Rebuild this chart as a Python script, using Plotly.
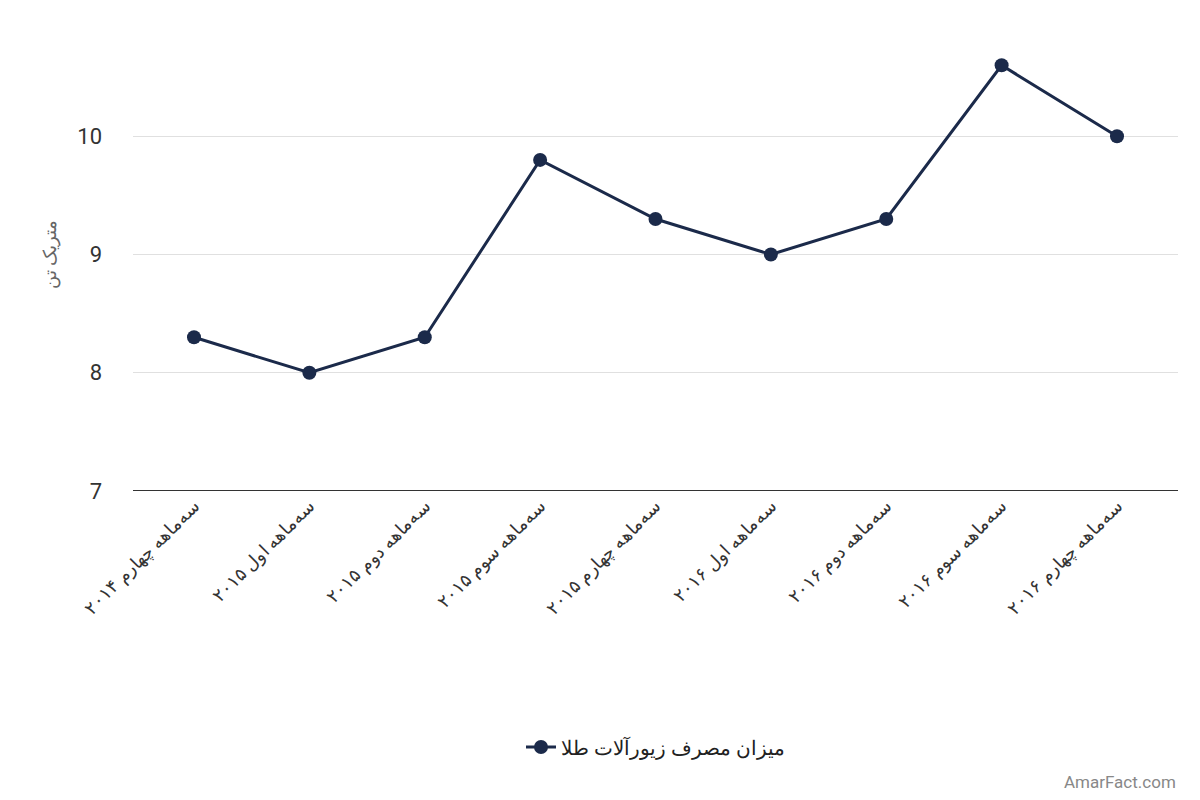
import plotly.graph_objects as go

categories = [
    "سه‌ماهه چهارم ۲۰۱۴", "سه‌ماهه اول ۲۰۱۵", "سه‌ماهه دوم ۲۰۱۵",
    "سه‌ماهه سوم ۲۰۱۵", "سه‌ماهه چهارم ۲۰۱۵", "سه‌ماهه اول ۲۰۱۶",
    "سه‌ماهه دوم ۲۰۱۶", "سه‌ماهه سوم ۲۰۱۶", "سه‌ماهه چهارم ۲۰۱۶",
]
values = [8.3, 8.0, 8.3, 9.8, 9.3, 9.0, 9.3, 10.6, 10.0]
series_name = "میزان مصرف زیورآلات طلا"
color = "#1b2a4a"

fig = go.Figure(go.Scatter(
    x=categories, y=values, name=series_name, mode="lines+markers",
    line=dict(color=color, width=3), marker=dict(size=14, color=color),
))

fig.update_layout(
    width=1200, height=800, plot_bgcolor="white", paper_bgcolor="white",
    font=dict(family="Roboto, Noto Sans", color="#333"),
    margin=dict(l=135, r=20, t=20, b=310),
    showlegend=True,
    legend=dict(orientation="h", x=0.5, xanchor="center", y=-0.5, yanchor="top",
                font=dict(size=20, color="#222")),
    xaxis=dict(tickangle=-45, tickfont=dict(size=18, color="#333"),
               showline=False, showgrid=False, ticks=""),
    yaxis=dict(range=[7, 11], dtick=1, gridcolor="#e0e0e0",
               tickfont=dict(size=22, color="#333"), ticklabelstandoff=30,
               zeroline=False, title=dict(text="متریک تن", font=dict(size=18, color="#666"))),
    annotations=[dict(text="AmarFact.com", x=1, y=0, xref="paper", yref="paper",
                      xanchor="right", yanchor="bottom", xshift=0, yshift=-303,
                      showarrow=False, font=dict(size=17, color="#888"))],
    shapes=[dict(type="line", xref="paper", yref="y", x0=0, x1=1, y0=7, y1=7,
                 line=dict(color="#333", width=2))],
)
fig.update_layout(margin=dict(l=125, r=30, t=10, b=317))

fig.write_html("out.html")
